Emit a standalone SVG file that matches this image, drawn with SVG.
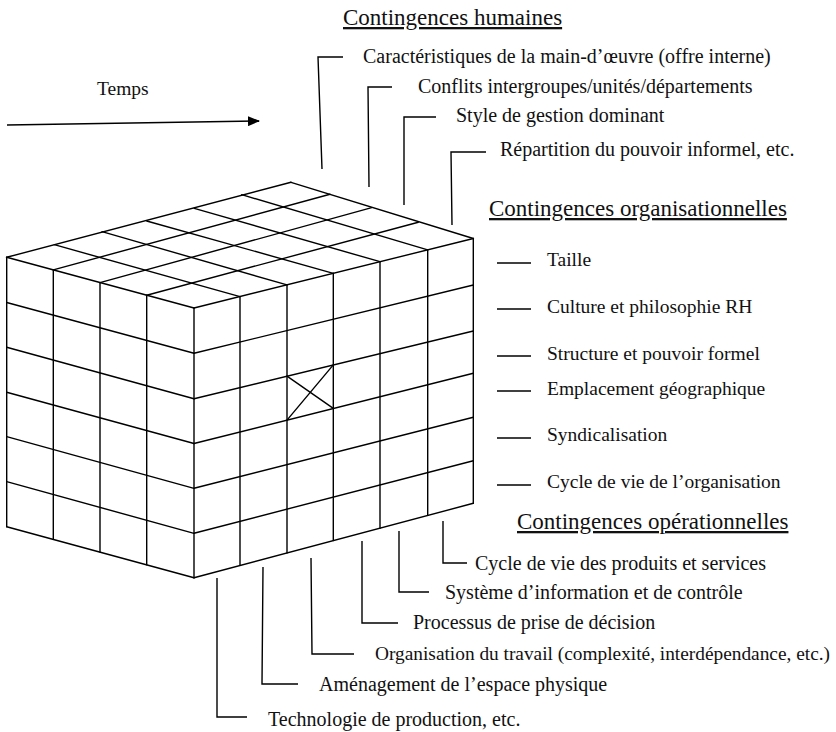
<svg xmlns="http://www.w3.org/2000/svg" width="836" height="732" viewBox="0 0 836 732">
<style>
text{font-family:"Liberation Serif","Times New Roman",serif;fill:#111}
.h{font-size:23px;text-decoration:underline}
.i{font-size:20px}
.o{font-size:19.5px}
.g line,.g path{stroke:#000;stroke-width:1.4;fill:none;stroke-linecap:round}
.c path,.c line{stroke:#000;stroke-width:1.4;fill:none}
</style>
<defs>
<marker id="ah" viewBox="0 0 12 10" refX="11" refY="5" markerWidth="12" markerHeight="10" markerUnits="userSpaceOnUse" orient="auto">
<path d="M0,0 L12,5 L0,10 Z" fill="#000"/>
</marker>
</defs>
<rect width="836" height="732" fill="#fff"/>
<g id="cube" class="g">
<!-- top face, lines parallel to F-R -->
<line x1="194" y1="308" x2="473.3" y2="238.5"/>
<line x1="146.7" y1="295.2" x2="418.3" y2="222.2"/>
<line x1="100" y1="282.6" x2="371.7" y2="207.7"/>
<line x1="53.3" y1="269.9" x2="330" y2="194.3"/>
<line x1="6.7" y1="257.3" x2="291" y2="182.3"/>
<!-- top face, lines parallel to F-L -->
<line x1="194" y1="308" x2="6.7" y2="257.3"/>
<line x1="240" y1="296.6" x2="54.3" y2="244.7"/>
<line x1="287" y1="284.9" x2="102" y2="231.7"/>
<line x1="333.3" y1="273.3" x2="146.7" y2="221"/>
<line x1="380" y1="261.7" x2="194.3" y2="208.3"/>
<line x1="427.7" y1="249.9" x2="241.7" y2="194.7"/>
<line x1="473.3" y1="238.5" x2="291" y2="182.3"/>
<!-- right face rows -->
<line x1="194" y1="353.3" x2="473.3" y2="285"/>
<line x1="194" y1="398.7" x2="473.3" y2="331"/>
<line x1="194" y1="443.5" x2="473.3" y2="373.3"/>
<line x1="194" y1="488.3" x2="473.3" y2="417.3"/>
<line x1="194" y1="533.3" x2="473.3" y2="460.7"/>
<line x1="194" y1="577.7" x2="473.3" y2="503.3"/>
<!-- right face columns -->
<line x1="194" y1="308" x2="194" y2="577.7"/>
<line x1="240" y1="296.6" x2="240" y2="565.4"/>
<line x1="287" y1="284.9" x2="287" y2="552.9"/>
<line x1="333.3" y1="273.3" x2="333.3" y2="540.6"/>
<line x1="380" y1="261.7" x2="380" y2="528.2"/>
<line x1="427.7" y1="249.9" x2="427.7" y2="515.4"/>
<line x1="473.3" y1="238.5" x2="473.3" y2="503.3"/>
<!-- left face rows -->
<line x1="194" y1="353.3" x2="6.7" y2="302.5"/>
<line x1="194" y1="398.7" x2="6.7" y2="347.3"/>
<line x1="194" y1="443.5" x2="6.7" y2="392.3"/>
<line x1="194" y1="488.3" x2="6.7" y2="436.7"/>
<line x1="194" y1="533.3" x2="6.7" y2="481.7"/>
<line x1="194" y1="577.7" x2="6.7" y2="526.7"/>
<!-- left face columns -->
<line x1="146.7" y1="295.2" x2="146.7" y2="564.8"/>
<line x1="100" y1="282.6" x2="100" y2="552.1"/>
<line x1="53.3" y1="269.9" x2="53.3" y2="539.4"/>
<line x1="6.7" y1="257.3" x2="6.7" y2="526.7"/>
<!-- marked cell -->
<line x1="287" y1="376.1" x2="333.3" y2="408.4"/>
<line x1="287" y1="420.1" x2="333.3" y2="364.9"/>
</g>
<g id="connectors" class="c">
<line x1="7" y1="125" x2="259" y2="121" marker-end="url(#ah)"/>
<path d="M322,169 L318,57 L343,57"/>
<path d="M369,187 L368,87 L392,87"/>
<path d="M404,205 L404,117 L436,117"/>
<path d="M452,225 L451,152 L486,152"/>
<line x1="497" y1="263" x2="531" y2="263"/>
<line x1="497" y1="309" x2="531" y2="309"/>
<line x1="497" y1="356" x2="531" y2="356"/>
<line x1="497" y1="391" x2="531" y2="391"/>
<line x1="497" y1="438" x2="531" y2="438"/>
<line x1="497" y1="485" x2="531" y2="485"/>
<path d="M443,521 L443,563 L467,563"/>
<path d="M399,531 L399,592 L429,592"/>
<path d="M362,541 L362,623 L398,623"/>
<path d="M311,558 L312,654 L354,654"/>
<path d="M263,567 L262,684 L298,684"/>
<path d="M217,578 L217,717 L247,717"/>
</g>
<g id="temps"><text class="o" x="97" y="95">Temps</text></g>
<g id="humaines">
<text class="h" x="343" y="25">Contingences humaines</text>
<text class="i" x="363" y="63">Caractéristiques de la main-d’œuvre (offre interne)</text>
<text class="i" x="418" y="93">Conflits intergroupes/unités/départements</text>
<text class="i" x="456" y="122">Style de gestion dominant</text>
<text class="i" x="500" y="156">Répartition du pouvoir informel, etc.</text>
</g>
<g id="organisationnelles">
<text class="h" x="489" y="216">Contingences organisationnelles</text>
<text class="o" x="547" y="266">Taille</text>
<text class="o" x="547" y="313">Culture et philosophie RH</text>
<text class="o" x="547" y="360">Structure et pouvoir formel</text>
<text class="o" x="547" y="395">Emplacement géographique</text>
<text class="o" x="547" y="441">Syndicalisation</text>
<text class="o" x="547" y="488">Cycle de vie de l’organisation</text>
</g>
<g id="operationnelles">
<text class="h" x="517" y="529">Contingences opérationnelles</text>
<text class="i" x="475" y="570">Cycle de vie des produits et services</text>
<text class="i" x="445" y="599">Système d’information et de contrôle</text>
<text class="i" x="413" y="629">Processus de prise de décision</text>
<text class="o" x="375" y="660" textLength="455" lengthAdjust="spacingAndGlyphs">Organisation du travail (complexité, interdépendance, etc.)</text>
<text class="i" x="319" y="691">Aménagement de l’espace physique</text>
<text class="i" x="268" y="726">Technologie de production, etc.</text>
</g>
</svg>
